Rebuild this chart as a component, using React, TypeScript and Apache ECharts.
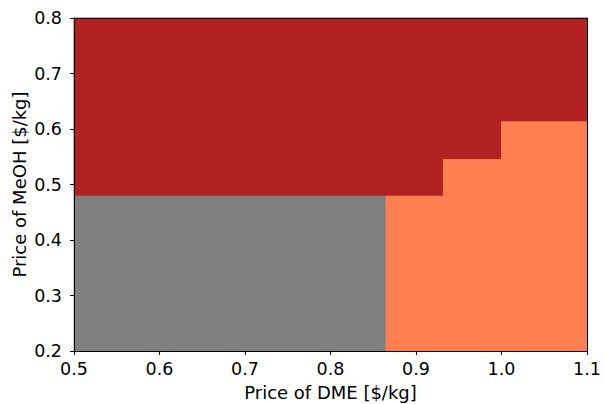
import React, { useEffect, useRef } from "react";
import * as echarts from "echarts";

// Step boundaries along x (Price of DME) and the upper boundary of the lower regions
const stepX = [0.5, 0.865, 0.932, 1.0, 1.1];
const lowerTopY = [0.479, 0.479, 0.545, 0.613];
const lowerRegion = ["gray", "coral", "coral", "coral"];
const yMin = 0.2;
const yMax = 0.8;
const xTitle = "Price of DME [$/kg]";
const yTitle = "Price of MeOH [$/kg]";

const regionColors: Record<string, string> = {
  gray: "#808080",
  coral: "#FF7F50",
  red: "#B22222",
};

const font = "DejaVu Sans";

function buildPolygons() {
  const polys: { name: string; points: number[][] }[] = [];
  // red upper region: top edge then the staircase from right to left
  const red: number[][] = [
    [stepX[0], yMax],
    [stepX[stepX.length - 1], yMax],
  ];
  for (let i = lowerTopY.length - 1; i >= 0; i--) {
    red.push([stepX[i + 1], lowerTopY[i]]);
    red.push([stepX[i], lowerTopY[i]]);
  }
  polys.push({ name: "red", points: red });
  // lower regions: group contiguous intervals of the same region
  let i = 0;
  while (i < lowerRegion.length) {
    let j = i;
    while (j + 1 < lowerRegion.length && lowerRegion[j + 1] === lowerRegion[i]) j++;
    const pts: number[][] = [
      [stepX[i], yMin],
      [stepX[j + 1], yMin],
    ];
    for (let k = j; k >= i; k--) {
      pts.push([stepX[k + 1], lowerTopY[k]]);
      pts.push([stepX[k], lowerTopY[k]]);
    }
    polys.push({ name: lowerRegion[i], points: pts });
    i = j + 1;
  }
  return polys;
}

export default function App() {
  const ref = useRef<HTMLDivElement>(null);
  useEffect(() => {
    if (!ref.current) return;
    const chart = echarts.init(ref.current, null, { renderer: "svg" });
    const polys = buildPolygons();
    const tickLabel = { fontFamily: font, fontSize: 17.5, color: "#000" };
    const nameStyle = { fontFamily: font, fontSize: 18, color: "#000" };
    const line = { show: true, onZero: false, lineStyle: { color: "#000", width: 1 } };
    chart.setOption({
      animation: false,
      grid: {
        left: 74,
        top: 18,
        right: 18,
        bottom: 53,
        containLabel: false,
        outerBoundsMode: "none",
      },
      graphic: [
        {
          type: "text",
          x: 19.5,
          y: 184.5,
          rotation: Math.PI / 2,
          style: {
            text: yTitle,
            fontFamily: font,
            fontSize: 18,
            fill: "#000",
            align: "center",
            verticalAlign: "middle",
          },
        },
      ],
      xAxis: [
        {
          type: "value",
          min: 0.5,
          max: 1.1,
          interval: 0.1,
          position: "bottom",
          name: xTitle,
          nameLocation: "middle",
          nameGap: 32,
          nameMoveOverlap: false,
          nameTextStyle: nameStyle,
          axisLine: line,
          axisTick: { show: true, length: 4, lineStyle: { color: "#000" } },
          axisLabel: { ...tickLabel, margin: 9, formatter: (v: number) => v.toFixed(1) },
          splitLine: { show: false },
          z: 10,
        },
        {
          type: "value",
          min: 0.5,
          max: 1.1,
          position: "top",
          axisLine: line,
          axisTick: { show: false },
          axisLabel: { show: false },
          splitLine: { show: false },
          z: 10,
        },
      ],
      yAxis: [
        {
          type: "value",
          min: 0.2,
          max: 0.8,
          interval: 0.1,
          position: "left",
          axisLine: line,
          axisTick: { show: true, length: 4, lineStyle: { color: "#000" } },
          axisLabel: { ...tickLabel, margin: 12, formatter: (v: number) => v.toFixed(1) },
          splitLine: { show: false },
          z: 10,
        },
        {
          type: "value",
          min: 0.2,
          max: 0.8,
          position: "right",
          axisLine: line,
          axisTick: { show: false },
          axisLabel: { show: false },
          splitLine: { show: false },
          z: 10,
        },
      ],
      series: [
        {
          type: "custom",
          xAxisIndex: 0,
          yAxisIndex: 0,
          z: 1,
          renderItem: (params: any, api: any) => {
            const poly = polys[params.dataIndex];
            const pts = poly.points.map((p) => api.coord(p));
            const color = regionColors[poly.name];
            return {
              type: "polygon",
              shape: { points: pts },
              style: { fill: color, stroke: color, lineWidth: 0.8 },
            };
          },
          data: polys.map((p) => p.points[0]),
        },
      ],
    });
    return () => chart.dispose();
  }, []);
  return <div ref={ref} style={{ width: 605, height: 404, position: "absolute", left: 0, top: 0 }} />;
}
